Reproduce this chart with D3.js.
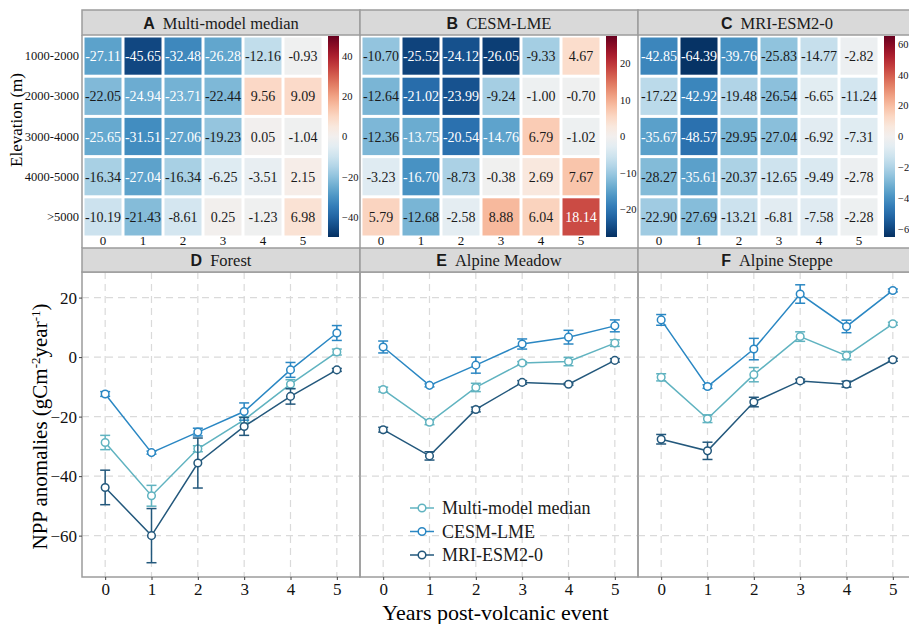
<!DOCTYPE html>
<html>
<head>
<meta charset="utf-8">
<script src="https://cdn.jsdelivr.net/npm/d3@7"></script>
<style>
body { margin: 0; background: #fff; }
svg { display: block; font-family: 'Liberation Serif', 'DejaVu Serif', serif; }
.strip rect { fill: #d9d9d9; stroke: #9c9c9c; stroke-width: 1.5; }
.grid line { stroke: #dadada; stroke-dasharray: 7,5; stroke-width: 1.2; }
.axis path { display: none; }
.axis line { stroke: #444; }
</style>
</head>
<body>
<svg width="909" height="624"></svg>
<script>
var svg = d3.select('svg');
var serif = "'Liberation Serif', 'DejaVu Serif', serif";

var years = [0, 1, 2, 3, 4, 5];
var elevations = ['1000-2000', '2000-3000', '3000-4000', '4000-5000', '>5000'];
var models = ['Multi-model median', 'CESM-LME', 'MRI-ESM2-0'];
var heatLetters = ['A', 'B', 'C'];
var biomes = ['Forest', 'Alpine Meadow', 'Alpine Steppe'];
var lineLetters = ['D', 'E', 'F'];
var modelColours = ['#60b3c0', '#2a87c3', '#23587c'];

// heatmap values, one row per elevation band, one column per year
var medianGrid = [
    [-27.11, -45.65, -32.48, -26.28, -12.16, -0.93],
    [-22.05, -24.94, -23.71, -22.44, 9.56, 9.09],
    [-25.65, -31.51, -27.06, -19.23, 0.05, -1.04],
    [-16.34, -27.04, -16.34, -6.25, -3.51, 2.15],
    [-10.19, -21.43, -8.61, 0.25, -1.23, 6.98]
];
var cesmGrid = [
    [-10.70, -25.52, -24.12, -26.05, -9.33, 4.67],
    [-12.64, -21.02, -23.99, -9.24, -1.00, -0.70],
    [-12.36, -13.75, -20.54, -14.76, 6.79, -1.02],
    [-3.23, -16.70, -8.73, -0.38, 2.69, 7.67],
    [5.79, -12.68, -2.58, 8.88, 6.04, 18.14]
];
var mriGrid = [
    [-42.85, -64.39, -39.76, -25.83, -14.77, -2.82],
    [-17.22, -42.92, -19.48, -26.54, -6.65, -11.24],
    [-35.67, -48.57, -29.95, -27.04, -6.92, -7.31],
    [-28.27, -35.61, -20.37, -12.65, -9.49, -2.78],
    [-22.90, -27.69, -13.21, -6.81, -7.58, -2.28]
];
var colourLimits = [50, 27.5, 65];
var colourTicks = [[40, 20, 0, -20, -40], [20, 10, 0, -10, -20], [60, 40, 20, 0, -20, -40, -60]];

// NPP anomalies and error bars per biome, per model
var forestMedian = [-28.7, -46.6, -30.8, -21.1, -9.1, 1.7];
var forestMedianErr = [2.4, 3.5, 1.0, 1.0, 1.5, 1.0];
var forestCesm = [-12.4, -32.1, -25.2, -18.3, -4.3, 8.1];
var forestCesmErr = [0.8, 0.5, 1.3, 2.9, 2.5, 2.5];
var forestMri = [-43.8, -60.0, -35.6, -23.3, -13.2, -4.3];
var forestMriErr = [5.8, 9.1, 8.4, 3.0, 2.6, 0.5];

var meadowMedian = [-10.9, -21.9, -10.2, -2.0, -1.5, 4.7];
var meadowMedianErr = [0.8, 0.8, 1.4, 0.5, 1.4, 1.1];
var meadowCesm = [3.4, -9.5, -2.7, 4.4, 6.7, 10.5];
var meadowCesmErr = [2.0, 0.5, 2.7, 1.7, 2.3, 2.0];
var meadowMri = [-24.4, -33.2, -17.6, -8.5, -9.1, -1.1];
var meadowMriErr = [0.8, 1.4, 0.8, 0.6, 0.3, 0.6];

var steppeMedian = [-6.8, -20.7, -5.9, 6.9, 0.5, 11.2];
var steppeMedianErr = [1.2, 1.3, 2.4, 1.6, 1.4, 0.5];
var steppeCesm = [12.5, -9.9, 2.7, 21.2, 10.3, 22.4];
var steppeCesmErr = [1.8, 0.6, 3.6, 3.1, 2.1, 0.5];
var steppeMri = [-27.6, -31.5, -15.1, -8.0, -9.1, -0.9];
var steppeMriErr = [1.6, 2.9, 1.6, 0.6, 1.0, 0.5];

var nppTicks = [20, 0, -20, -40, -60];

// layout
var panelX = [82, 360, 638];
var panelW = 278;
var heatTop = 36, heatBottom = 237;
var plotTop = 272, plotBottom = 577;

function styleAxisText(sel, size) {
    sel.selectAll('text')
        .style('font-family', serif)
        .style('font-size', size)
        .style('fill', '#111');
}

function drawStrip(x, y, h, letter, title) {
    var s = svg.append('g').attr('class', 'strip');
    s.append('rect').attr('x', x).attr('y', y).attr('width', panelW).attr('height', h);
    var t = s.append('text')
        .attr('x', x + panelW / 2)
        .attr('y', y + h / 2 + 6)
        .attr('text-anchor', 'middle')
        .style('font-size', '16.5px')
        .style('fill', '#1a1a1a');
    t.append('tspan').text(letter)
        .style('font-family', "'Liberation Sans', Arial, sans-serif")
        .style('font-weight', 'bold')
        .style('font-size', '16px');
    t.append('tspan').attr('dx', 8).text(title);
}

/* ---------- heatmaps A-C ---------- */
var grids = [medianGrid, cesmGrid, mriGrid];
var xBand = d3.scaleBand().domain(years).range([1, 241]);
var yBand = d3.scaleBand().domain(elevations).range([heatTop, heatBottom]);

var defs = svg.append('defs');

grids.forEach(function(grid, k) {
    var lim = colourLimits[k];
    var colour = function(v) { return d3.interpolateRdBu((lim - v) / (2 * lim)); };
    var g = svg.append('g').attr('transform', 'translate(' + [panelX[k], 0] + ')');

    var cells = [];
    grid.forEach(function(row, i) {
        row.forEach(function(v, j) {
            cells.push({elev: elevations[i], year: years[j], v: v});
        });
    });

    g.selectAll('.tile').data(cells).enter().append('rect')
        .attr('class', 'tile')
        .attr('x', function(d) { return xBand(d.year) + 1.5; })
        .attr('y', function(d) { return yBand(d.elev) + 1.5; })
        .attr('width', xBand.bandwidth() - 3)
        .attr('height', yBand.bandwidth() - 3)
        .style('fill', function(d) { return colour(d.v); });

    g.selectAll('.val').data(cells).enter().append('text')
        .attr('class', 'val')
        .attr('x', function(d) { return xBand(d.year) + xBand.bandwidth() / 2; })
        .attr('y', function(d) { return yBand(d.elev) + yBand.bandwidth() / 2 + 5; })
        .attr('text-anchor', 'middle')
        .style('font-size', '14px')
        .style('fill', function(d) { return Math.abs(d.v) / lim > 0.47 ? '#fff' : '#1a1a1a'; })
        .text(function(d) { return d.v.toFixed(2); });

    // x labels under tiles
    var hx = g.append('g').attr('class', 'axis')
        .attr('transform', 'translate(0,' + (heatBottom - 2) + ')')
        .call(d3.axisBottom(xBand).tickSize(0).tickPadding(1));
    styleAxisText(hx, '13px');

    // colour bar
    var gradId = 'grad' + k;
    var grad = defs.append('linearGradient').attr('id', gradId)
        .attr('x1', 0).attr('y1', 1).attr('x2', 0).attr('y2', 0);
    d3.range(0, 1.0001, 0.05).forEach(function(t) {
        grad.append('stop').attr('offset', t).attr('stop-color', colour(-lim + 2 * lim * t));
    });
    var barX = 246;
    var barScale = d3.scaleLinear().domain([-lim, lim]).range([heatBottom, heatTop]);
    g.append('rect').attr('x', barX).attr('y', heatTop).attr('width', 11)
        .attr('height', heatBottom - heatTop).style('fill', 'url(#' + gradId + ')');
    var bar = g.append('g').attr('class', 'axis')
        .attr('transform', 'translate(' + (barX + 11) + ',0)')
        .call(d3.axisRight(barScale).tickValues(colourTicks[k]).tickSize(0).tickPadding(3)
            .tickFormat(function(d) { return d < 0 ? '\u2212' + Math.abs(d) : d; }));
    styleAxisText(bar, '10.5px');

    // strip and left border
    svg.append('line')
        .attr('x1', panelX[k]).attr('x2', panelX[k])
        .attr('y1', 35).attr('y2', 248)
        .style('stroke', '#9c9c9c').style('stroke-width', 1.5);
    drawStrip(panelX[k], 10, 25, heatLetters[k], models[k]);
});

// elevation labels
var rowAxis = svg.append('g').attr('class', 'axis')
    .attr('transform', 'translate(' + (panelX[0] - 1) + ',0)')
    .call(d3.axisLeft(yBand).tickSize(0).tickPadding(2));
styleAxisText(rowAxis, '12.5px');

svg.append('text')
    .attr('transform', 'translate(22,120)rotate(-90)')
    .attr('text-anchor', 'middle')
    .style('font-size', '17px')
    .text('Elevation (m)');

/* ---------- line panels D-F ---------- */
var biomeSeries = [
    [[forestMedian, forestMedianErr], [forestCesm, forestCesmErr], [forestMri, forestMriErr]],
    [[meadowMedian, meadowMedianErr], [meadowCesm, meadowCesmErr], [meadowMri, meadowMriErr]],
    [[steppeMedian, steppeMedianErr], [steppeCesm, steppeCesmErr], [steppeMri, steppeMriErr]]
];

var xPoint = d3.scalePoint().domain(years).range([0, panelW]).padding(0.5);
var yScale = d3.scaleLinear().domain([-73.9, 28.6]).range([plotBottom, plotTop]);

biomeSeries.forEach(function(series, k) {
    var g = svg.append('g').attr('transform', 'translate(' + [panelX[k], 0] + ')');

    var grid = g.append('g').attr('class', 'grid');
    grid.selectAll('.gx').data(years).enter().append('line')
        .attr('x1', function(d) { return xPoint(d); })
        .attr('x2', function(d) { return xPoint(d); })
        .attr('y1', plotTop).attr('y2', plotBottom);
    grid.selectAll('.gy').data(nppTicks).enter().append('line')
        .attr('x1', 0).attr('x2', panelW)
        .attr('y1', function(d) { return yScale(d); })
        .attr('y2', function(d) { return yScale(d); });

    series.forEach(function(s, m) {
        var pts = years.map(function(yr, i) { return {x: yr, v: s[0][i], e: s[1][i]}; });
        var c = modelColours[m];
        var sg = g.append('g');

        sg.append('path').datum(pts)
            .attr('d', d3.line().x(function(d) { return xPoint(d.x); }).y(function(d) { return yScale(d.v); }))
            .style('fill', 'none').style('stroke', c).style('stroke-width', 1.5);

        var eb = sg.selectAll('.eb').data(pts).enter().append('g');
        eb.append('line')
            .attr('x1', function(d) { return xPoint(d.x); })
            .attr('x2', function(d) { return xPoint(d.x); })
            .attr('y1', function(d) { return yScale(d.v - d.e); })
            .attr('y2', function(d) { return yScale(d.v + d.e); });
        eb.append('line')
            .attr('x1', function(d) { return xPoint(d.x) - 5; })
            .attr('x2', function(d) { return xPoint(d.x) + 5; })
            .attr('y1', function(d) { return yScale(d.v - d.e); })
            .attr('y2', function(d) { return yScale(d.v - d.e); });
        eb.append('line')
            .attr('x1', function(d) { return xPoint(d.x) - 5; })
            .attr('x2', function(d) { return xPoint(d.x) + 5; })
            .attr('y1', function(d) { return yScale(d.v + d.e); })
            .attr('y2', function(d) { return yScale(d.v + d.e); });
        eb.selectAll('line').style('stroke', c).style('stroke-width', 1.5);

        sg.selectAll('.pt').data(pts).enter().append('circle')
            .attr('cx', function(d) { return xPoint(d.x); })
            .attr('cy', function(d) { return yScale(d.v); })
            .attr('r', 3.8)
            .style('fill', '#fff').style('stroke', c).style('stroke-width', 1.5);
    });

    g.append('rect')
        .attr('x', 0).attr('y', plotTop).attr('width', panelW).attr('height', plotBottom - plotTop)
        .style('fill', 'none').style('stroke', '#9c9c9c').style('stroke-width', 1.5);

    var xa = g.append('g').attr('class', 'axis')
        .attr('transform', 'translate(0,' + plotBottom + ')')
        .call(d3.axisBottom(xPoint).tickSize(3).tickPadding(3));
    styleAxisText(xa, '17px');

    drawStrip(panelX[k], 248, 24, lineLetters[k], biomes[k]);
});

var ya = svg.append('g').attr('class', 'axis')
    .attr('transform', 'translate(' + panelX[0] + ',0)')
    .call(d3.axisLeft(yScale).tickValues(nppTicks).tickSize(3).tickPadding(2));
styleAxisText(ya, '17px');

var yTitle = svg.append('text')
    .attr('transform', 'translate(47,' + ((plotTop + plotBottom) / 2 + 2) + ')rotate(-90)')
    .attr('text-anchor', 'middle')
    .style('font-size', '21px');
yTitle.append('tspan').text('NPP anomalies (gCm');
yTitle.append('tspan').attr('dy', -7).style('font-size', '13px').text('-2');
yTitle.append('tspan').attr('dy', 7).text('year');
yTitle.append('tspan').attr('dy', -7).style('font-size', '13px').text('-1');
yTitle.append('tspan').attr('dy', 7).text(')');

svg.append('text')
    .attr('x', (panelX[0] + 909) / 2)
    .attr('y', 620)
    .attr('text-anchor', 'middle')
    .style('font-size', '22px')
    .text('Years post-volcanic event');

// legend inside panel E
var legend = svg.append('g').attr('transform', 'translate(410,508)');
models.forEach(function(name, m) {
    var row = legend.append('g').attr('transform', 'translate(0,' + (m * 23.5) + ')');
    row.append('line').attr('x1', 0).attr('x2', 24).attr('y1', 0).attr('y2', 0)
        .style('stroke', modelColours[m]).style('stroke-width', 1.5);
    row.append('circle').attr('cx', 12).attr('cy', 0).attr('r', 3.8)
        .style('fill', '#fff').style('stroke', modelColours[m]).style('stroke-width', 1.5);
    row.append('text').attr('x', 32).attr('y', 6)
        .style('font-size', '18px').style('fill', '#1a1a1a')
        .text(name);
});
</script>
</body>
</html>
